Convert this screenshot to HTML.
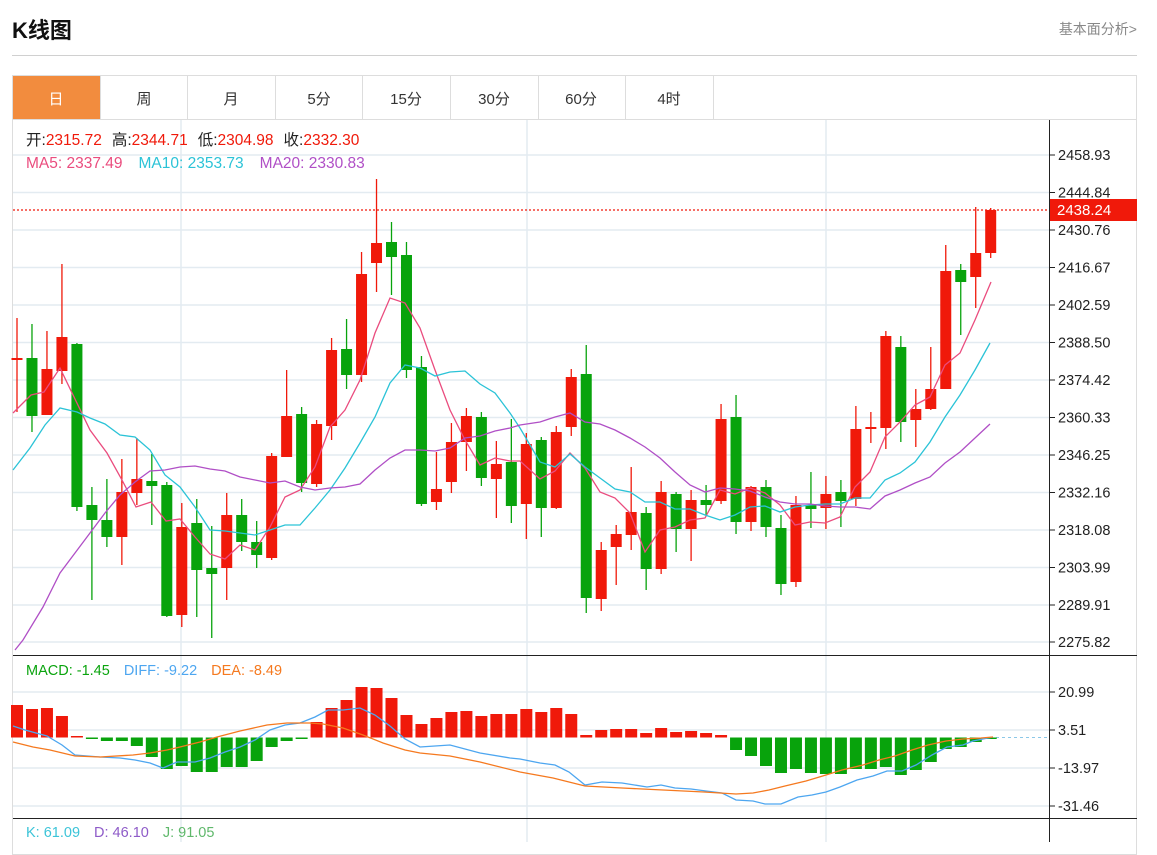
<!DOCTYPE html>
<html><head><meta charset="utf-8">
<style>
html,body{margin:0;padding:0;background:#fff;width:1157px;height:842px;overflow:hidden;font-family:"Liberation Sans","Noto Sans CJK SC",sans-serif;}
.t{position:absolute;white-space:nowrap;}
</style></head><body>
<div class="t" style="left:12px;top:13px;font-size:22px;font-weight:bold;color:#111;">K线图</div>
<div class="t" style="right:20px;top:19px;font-size:14px;color:#888;">基本面分析&gt;</div>
<div style="position:absolute;left:12px;top:55px;width:1125px;height:1px;background:#d0d0d0"></div>
<div style="position:absolute;left:12px;top:75px;width:1125px;height:780px;border:1px solid #ddd;box-sizing:border-box"></div>
<svg id="s" width="1157" height="842" style="position:absolute;left:0;top:0" xmlns="http://www.w3.org/2000/svg" font-family="Liberation Sans, Noto Sans CJK SC, sans-serif">
<g stroke="#ddd" stroke-width="1">
<line x1="12" y1="119.5" x2="1137" y2="119.5"/>
<line x1="100.5" y1="76" x2="100.5" y2="119"/><line x1="187.5" y1="76" x2="187.5" y2="119"/><line x1="275.5" y1="76" x2="275.5" y2="119"/><line x1="362.5" y1="76" x2="362.5" y2="119"/><line x1="450.5" y1="76" x2="450.5" y2="119"/><line x1="538.5" y1="76" x2="538.5" y2="119"/><line x1="625.5" y1="76" x2="625.5" y2="119"/><line x1="713.5" y1="76" x2="713.5" y2="119"/>
</g>
<rect x="13" y="76" width="87" height="43" fill="#f28c3e"/>
<g font-size="15" fill="#333" text-anchor="middle">
<text x="56" y="104" fill="#fff">日</text><text x="144" y="104">周</text><text x="231" y="104">月</text><text x="319" y="104">5分</text><text x="406" y="104">15分</text><text x="494" y="104">30分</text><text x="581" y="104">60分</text><text x="669" y="104">4时</text>
</g>
<g id="grid" stroke="#e3ebf1" stroke-width="1.5"></g>
<g id="draw"></g>
<line x1="1049.5" y1="120" x2="1049.5" y2="842" stroke="#222"/>
<line x1="13" y1="655.5" x2="1137" y2="655.5" stroke="#222"/>
<line x1="13" y1="818.5" x2="1137" y2="818.5" stroke="#222"/>
<g font-size="15.5">
<text x="26" y="145"><tspan fill="#222">开:</tspan><tspan fill="#f0190a">2315.72</tspan><tspan fill="#222" dx="10">高:</tspan><tspan fill="#f0190a">2344.71</tspan><tspan fill="#222" dx="10">低:</tspan><tspan fill="#f0190a">2304.98</tspan><tspan fill="#222" dx="10">收:</tspan><tspan fill="#f0190a">2332.30</tspan></text>
<text x="26" y="168"><tspan fill="#ea4c7e">MA5: 2337.49</tspan><tspan fill="#2bc3d7" dx="16">MA10: 2353.73</tspan><tspan fill="#b04fc6" dx="16">MA20: 2330.83</tspan></text>
<text x="26" y="675" font-size="14.5"><tspan fill="#0aa40e">MACD: -1.45</tspan><tspan fill="#4da6f0" dx="14">DIFF: -9.22</tspan><tspan fill="#f5791f" dx="14">DEA: -8.49</tspan></text>
<text x="26" y="837" font-size="14.5"><tspan fill="#3cc4d8">K: 61.09</tspan><tspan fill="#8e5bc8" dx="14">D: 46.10</tspan><tspan fill="#5fb86b" dx="14">J: 91.05</tspan></text>
</g>
<g font-size="14.5" fill="#222" id="ax"></g>
<rect x="1050" y="199" width="87" height="22" fill="#f0190a"/>
<text x="1057" y="215" font-size="15" fill="#fff">2438.24</text>
</svg>
<script>
var NS="http://www.w3.org/2000/svg";
function el(p,t,a){var e=document.createElementNS(NS,t);for(var k in a)e.setAttribute(k,a[k]);p.appendChild(e);return e;}
var g=document.getElementById('grid'),d=document.getElementById('draw'),ax=document.getElementById('ax');
var hy=[155,192.5,230,267.5,305,342.5,380,417.5,455,492.5,530,567.5,605,642];
var hl=["2458.93","2444.84","2430.76","2416.67","2402.59","2388.50","2374.42","2360.33","2346.25","2332.16","2318.08","2303.99","2289.91","2275.82"];
hy.forEach(function(y,i){el(g,'line',{x1:13,x2:1049,y1:y,y2:y});el(ax,'line',{x1:1049,x2:1055,y1:y,y2:y,stroke:'#222'});var t=el(ax,'text',{x:1058,y:y+5});t.textContent=hl[i];});
[[692,"20.99"],[730,"3.51"],[768,"-13.97"],[806,"-31.46"]].forEach(function(a){el(g,'line',{x1:13,x2:1049,y1:a[0],y2:a[0]});el(ax,'line',{x1:1049,x2:1055,y1:a[0],y2:a[0],stroke:'#222'});var t=el(ax,'text',{x:1058,y:a[0]+5});t.textContent=a[1];});
[181,527,826].forEach(function(x){el(g,'line',{x1:x,x2:x,y1:120,y2:842});});
el(d,'line',{x1:13,x2:1049,y1:210,y2:210,stroke:'#f0190a','stroke-dasharray':'2,2','stroke-width':1.2});
el(d,'line',{x1:990,x2:1049,y1:737.5,y2:737.5,stroke:'#8cc8e8','stroke-dasharray':'3,3'});
var R='#f0190a',G='#08a30c';
var C=[[358,360,318,412,R],[358,416,324,432,G],[369,415,331,415,R],[337,371,264,384,R],[344,507,343,511,G],[505,520,487,600,G],[520,537,479,547,G],[492,537,459,565,R],[479,493,438,505,R],[481,486,454,525,G],[485,616,482,617,G],[527,615,503,627,R],[523,570,499,617,G],[568,574,526,638,G],[515,568,493,600,R],[515,542,499,551,G],[542,555,521,568,G],[456,558,453,560,R],[416,457,370,457,R],[414,483,407,492,G],[424,484,420,487,R],[350,426,338,440,R],[349,375,319,389,G],[274,375,252,382,R],[243,263,179,292,R],[242,257,222,295,G],[255,370,242,378,G],[367,504,356,506,G],[489,502,452,510,R],[442,482,423,493,R],[416,442,408,471,R],[417,478,412,486,G],[464,479,441,518,R],[462,506,419,523,G],[444,504,433,539,R],[440,508,437,537,G],[432,508,426,509,R],[377,427,369,436,R],[374,598,345,613,G],[550,599,542,611,R],[534,547,525,585,R],[512,535,467,550,R],[513,569,507,590,G],[492,569,481,574,R],[494,529,492,552,G],[500,529,490,561,R],[500,505,485,515,G],[419,501,404,504,R],[417,522,395,534,G],[487,522,486,531,R],[487,527,480,537,G],[528,584,515,595,G],[505,582,496,587,R],[505,509,472,528,G],[494,508,476,529,R],[492,501,480,527,G],[429,499,406,506,R],[427,429,412,443,R],[336,428,331,449,R],[347,422,336,442,G],[409,420,389,447,R],[389,409,347,410,R],[271,389,245,389,R],[270,282,264,335,G],[253,277,207,308,R],[210,253,208,258,R]];
C.forEach(function(c,i){var x=17+i*14.98;el(d,'line',{x1:x,x2:x,y1:c[2],y2:c[3],stroke:c[4],'stroke-width':1.3});el(d,'rect',{x:x-5.5,y:c[0],width:11,height:Math.max(2,c[1]-c[0]),fill:c[4]});});
function pl(pts,col,w){el(d,'polyline',{points:pts,fill:'none',stroke:col,'stroke-width':w||1.3});}
pl("13,413 31,395 44,392 60,368 90,430 107,453 122,480 136,507 151,502 166,521 180,519 195,537 210,554 225,559 240,545 255,550 270,527 285,497 300,490 315,467 330,427 345,410 360,380 375,333 390,298 405,303 420,328 435,370 450,410 465,440 480,465 495,458 510,461 520,461 540,479 555,471 570,453 585,468 600,492 615,498 630,513 645,552 660,530 675,527 690,520 705,518 720,490 735,494 750,488 765,493 780,505 795,525 810,522 825,523 840,517 855,487 870,472 885,437 900,422 915,405 930,397 945,365 960,353 975,320 991,282","#ea4c7e");
pl("13,470 30,448 45,425 60,408 77,412 90,418 105,424 120,435 135,437 150,450 165,475 180,487 195,507 210,530 225,531 240,533 255,535 270,530 285,525 300,525 315,508 330,490 345,468 360,443 375,417 390,383 405,365 420,368 435,376 450,372 465,371 480,384 495,393 510,413 520,428 540,462 555,467 570,454 585,467 600,478 615,489 630,492 645,502 660,502 675,509 690,509 705,515 720,520 735,515 750,507 765,506 780,512 795,507 810,505 825,504 840,504 855,498 870,498 885,480 900,473 915,462 930,442 945,417 960,395 975,370 990,343","#2bc3d7");
pl("15,650 23,640 43,607 60,573 75,553 90,533 105,513 120,495 135,482 150,471 165,470 180,467 195,466 210,469 225,471 240,477 255,480 270,483 285,481 300,487 315,490 330,488 345,487 360,484 375,470 390,458 405,450 420,450 435,451 450,448 465,438 480,436 495,431 510,428 520,425 540,422 555,417 570,413 585,422 600,424 615,430 630,438 645,447 660,458 675,472 690,485 705,492 720,488 735,489 750,491 765,497 780,502 795,504 810,504 825,506 840,507 855,507 870,509 885,496 900,490 915,483 930,477 945,463 960,452 975,438 990,424","#b04fc6");
var M=[705,709,708,716,736,739,741,741,746,757,769,766,772,772,767,767,761,747,741,739,722,708,700,687,688,698,715,724,718,712,711,716,714,714,709,712,708,714,735,730,729,729,733,728,732,731,733,735,750,756,766,773,769,773,774,774,769,769,767,775,770,762,749,747,742,739];
M.forEach(function(y,i){var x=17+i*14.98;var t=Math.min(y,737.5),h=Math.abs(y-737.5);el(d,'rect',{x:x-6,y:t,width:12,height:Math.max(1,h),fill:y<737.5?R:G});});
pl("13,726 25,730 47,736 62,745 75,755 100,757 120,758 135,760 150,763 163,768 177,762 195,762 210,758 225,752 240,747 255,740 270,730 285,725 300,723 315,717 328,710 343,710 360,708 375,715 390,726 405,739 420,747 450,745 480,753 510,758 520,759 540,763 555,765 569,772 585,785 602,782 622,783 647,787 661,785 675,788 691,789 706,791 722,793 736,800 753,801 765,804 781,804 798,797 812,795 826,792 840,787 857,780 873,776 887,771 902,771 916,765 932,755 947,747 963,745 973,741 993,737","#4da6f0");
pl("13,742 33,747 50,750 75,756 100,757 133,755 150,753 167,750 180,747 200,742 217,737 240,731 267,725 287,723 310,723 323,724 343,728 363,735 383,743 405,750 420,753 450,756 480,762 520,772 553,778 585,786 622,788 663,790 704,792 736,794 753,793 769,790 785,786 806,781 826,775 842,770 863,765 879,760 895,756 912,750 928,745 946,741 963,739 981,738 993,737","#f5791f");
</script>
</body></html>
